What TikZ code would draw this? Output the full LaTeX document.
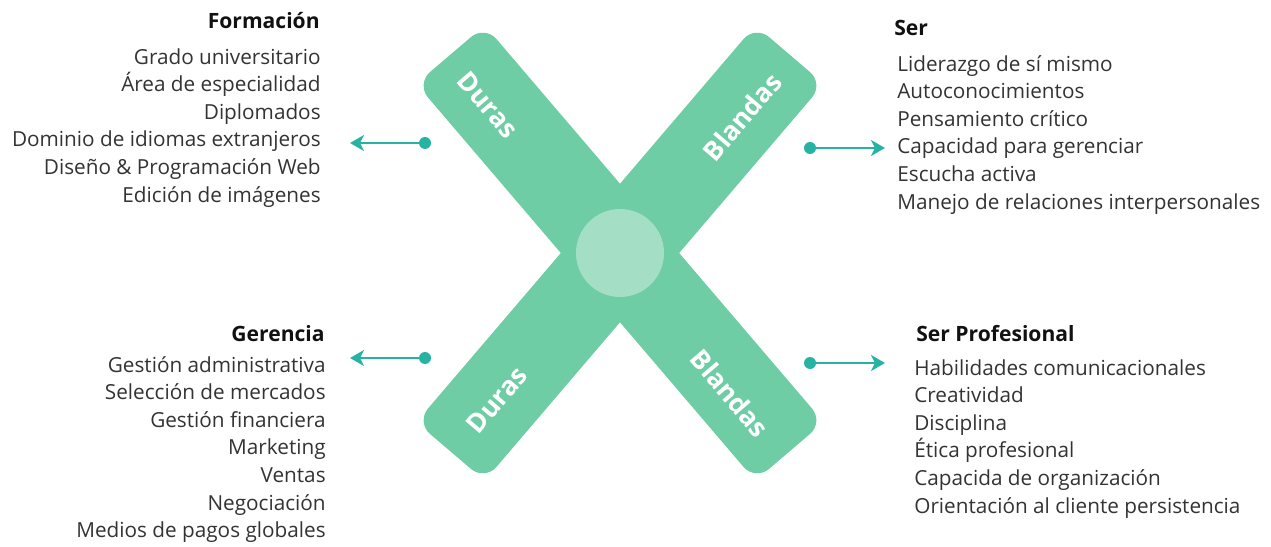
\documentclass[tikz,border=0pt]{standalone}
\usepackage{fontspec}
\setmainfont{Open Sans}
\usetikzlibrary{arrows.meta}
\definecolor{armgreen}{HTML}{6FCDA6}
\definecolor{hubgreen}{HTML}{A4DEC4}
\definecolor{linkteal}{HTML}{27B3A4}
\definecolor{ink}{HTML}{333333}
\definecolor{headink}{HTML}{111111}
\tikzset{
arm/.style={fill=armgreen, rounded corners=0.36cm},
armlabel/.style={text=white, inner sep=0, font=\bfseries\fontsize{15}{17}\selectfont},
hub/.style={circle, fill=hubgreen, minimum size=1.76cm, inner sep=0},
dot/.style={circle, fill=linkteal, minimum size=0.24cm, inner sep=0},
link/.style={draw=linkteal, line width=1.1pt, -{Stealth[length=0.28cm, width=0.32cm, inset=0.08cm]}},
head/.style={text=headink, inner sep=0, font=\bfseries\fontsize{12}{15.7}\selectfont},
items/.style={text=ink, inner sep=0, font=\fontsize{11.8}{15.7}\selectfont}
}

\begin{document}
\begin{tikzpicture}[x=0.02cm, y=-0.02cm]
\useasboundingbox (0,0) rectangle (1271,547);
% the cross
\begin{scope}[shift={(620,253)}]
  \fill[arm, rotate=-49.5] (-261,-45) rectangle (261,45);
  \fill[arm, rotate=49.5] (-261,-45) rectangle (261,45);
\end{scope}
\node[hub] (hub) at (620,253) {};
\node[armlabel, rotate=-49.5] (durasTop) at (488,105) {Duras};
\node[armlabel, rotate=49.5] (blandasTop) at (742,117) {Blandas};
\node[armlabel, rotate=49.5] (durasBot) at (497,400) {Duras};
\node[armlabel, rotate=-49.5] (blandasBot) at (730,393) {Blandas};

% left side
\node[head, anchor=base east] (formacion) at (320,28.3) {Formación};
\node[items, anchor=north east, align=right] (formacionList) at (321,48) {Grado universitario\\
  Área de especialidad\\
  Diplomados\\
  Dominio de idiomas extranjeros\\
  Diseño \& Programación Web\\
  Edición de imágenes};
\node[head, anchor=base east] (gerencia) at (325,341.7) {Gerencia};
\node[items, anchor=north east, align=right] (gerenciaList) at (326,356) {Gestión administrativa\\
  Selección de mercados\\
  Gestión financiera\\
  Marketing\\
  Ventas\\
  Negociación\\
  Medios de pagos globales};

% right side
\node[head, anchor=base west] (ser) at (894,36) {Ser};
\node[items, anchor=north west, align=left] (serList) at (897,55) {Liderazgo de sí mismo\\
  Autoconocimientos\\
  Pensamiento crítico\\
  Capacidad para gerenciar\\
  Escucha activa\\
  Manejo de relaciones interpersonales};
\node[head, anchor=base west] (serPro) at (916,341.7) {Ser Profesional};
\node[items, anchor=north west, align=left] (serProList) at (914,359) {Habilidades comunicacionales\\
  Creatividad\\
  Disciplina\\
  Ética profesional\\
  Capacida de organización\\
  Orientación al cliente persistencia};

% pointers
\node[dot] (dotFormacion) at (425,143) {};
\coordinate (tipFormacion) at (350,143);
\draw[link] (dotFormacion.center) -- (tipFormacion);
\node[dot] (dotGerencia) at (425,358) {};
\coordinate (tipGerencia) at (350,358);
\draw[link] (dotGerencia.center) -- (tipGerencia);
\node[dot] (dotSer) at (810,148) {};
\coordinate (tipSer) at (885,148);
\draw[link] (dotSer.center) -- (tipSer);
\node[dot] (dotSerPro) at (810,363) {};
\coordinate (tipSerPro) at (885,363);
\draw[link] (dotSerPro.center) -- (tipSerPro);
\end{tikzpicture}
\end{document}
